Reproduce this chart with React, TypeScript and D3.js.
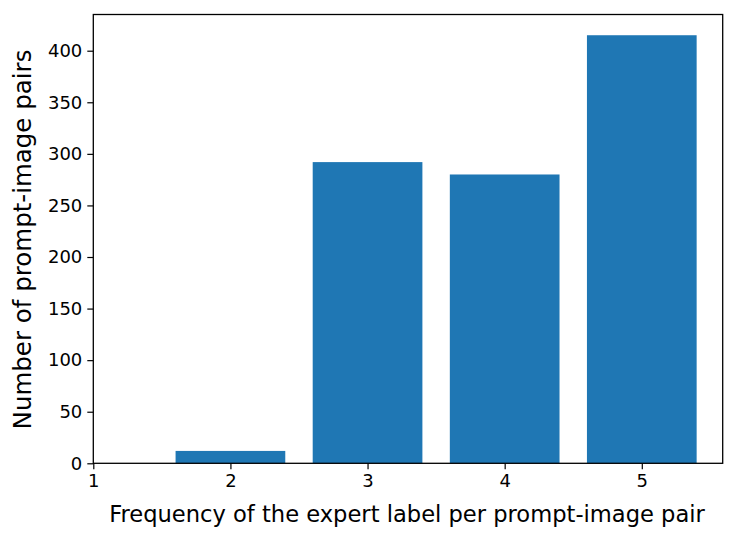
import { useEffect, useRef } from "react";
import * as d3 from "d3";

// bar chart data
const categories = [2, 3, 4, 5];
const counts = [12, 292, 280, 415];
const xTicks = [1, 2, 3, 4, 5];
const yTicks = [0, 50, 100, 150, 200, 250, 300, 350, 400];

const svgWidth = 736;
const svgHeight = 545;
const font = "'DejaVu Sans', sans-serif";

export default function App() {
    const ref = useRef<SVGSVGElement>(null);

    useEffect(() => {
        const svg = d3.select(ref.current);
        svg.selectAll("*").remove();

        const left = 93.3, right = 722.7, top = 14.5, bottom = 463.3;

        const x = d3.scaleLinear().domain([1, 5.59]).range([left, right]);
        const y = d3.scaleLinear().domain([0, 435.1]).range([bottom, top]);

        // bars
        svg.append("g")
            .selectAll("rect")
            .data(categories)
            .join("rect")
            .attr("x", (d) => x(d - 0.4))
            .attr("width", (d) => x(d + 0.4) - x(d - 0.4))
            .attr("y", (d, i) => y(counts[i]))
            .attr("height", (d, i) => y(0) - y(counts[i]))
            .attr("fill", "#1f77b4");

        // axes
        const xAxis = svg.append("g")
            .attr("transform", `translate(0,${bottom})`)
            .call(d3.axisBottom(x).tickValues(xTicks).tickFormat(d3.format("d")).tickSize(6).tickPadding(5));
        const yAxis = svg.append("g")
            .attr("transform", `translate(${left},0)`)
            .call(d3.axisLeft(y).tickValues(yTicks).tickFormat(d3.format("d")).tickSize(6).tickPadding(5));

        [xAxis, yAxis].forEach((a) => {
            a.select(".domain").remove();
            a.selectAll("line").attr("stroke", "#000").attr("stroke-width", 1.2);
            a.selectAll("text").attr("font-family", font).attr("font-size", 18).attr("fill", "#000");
        });

        // frame
        svg.append("rect")
            .attr("x", left)
            .attr("y", top)
            .attr("width", right - left)
            .attr("height", bottom - top)
            .attr("fill", "none")
            .attr("stroke", "#000")
            .attr("stroke-width", 1.3);

        // labels
        svg.append("text")
            .attr("x", (left + right) / 2 - 1)
            .attr("y", 522)
            .attr("text-anchor", "middle")
            .attr("font-family", font)
            .attr("font-size", 22.6)
            .text("Frequency of the expert label per prompt-image pair");

        svg.append("text")
            .attr("transform", `translate(31,239.5) rotate(-90)`)
            .attr("text-anchor", "middle")
            .attr("font-family", font)
            .attr("font-size", 24.5)
            .text("Number of prompt-image pairs");
    }, []);

    return (
        <div style={{ position: "fixed", left: 0, top: 0 }}>
            <svg width={svgWidth} height={svgHeight} ref={ref} style={{ display: "block", background: "#fff" }}></svg>
        </div>
    );
}
